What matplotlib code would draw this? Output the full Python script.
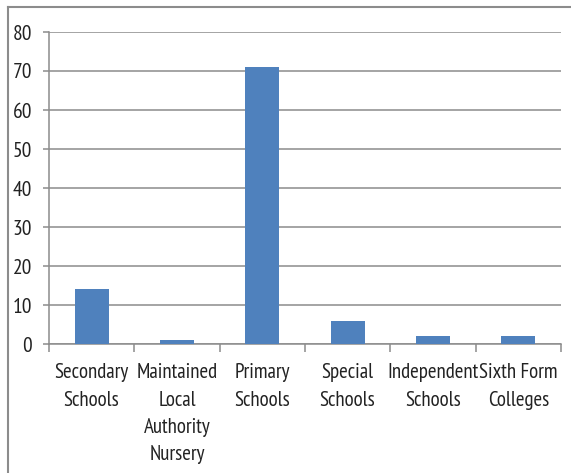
import matplotlib
matplotlib.use("Agg")
from matplotlib import pyplot as plt
from matplotlib.lines import Line2D
import numpy as np

plt.rcParams['font.family'] = ['PT Sans Narrow', 'DejaVu Sans']

categories = ["Secondary\nSchools", "Maintained\nLocal\nAuthority\nNursery",
              "Primary\nSchools", "Special\nSchools", "Independent\nSchools",
              "Sixth Form\nColleges"]
values = [14, 1, 71, 6, 2, 2]
y_ticks = [0, 10, 20, 30, 40, 50, 60, 70, 80]

W, H = 571, 473
fig = plt.figure(figsize=(W / 100, H / 100), dpi=100)
ax = fig.add_axes([49 / W, 1 - 344 / H, (561 - 49) / W, (344 - 32) / H])

x = np.arange(len(categories))
ax.bar(x, values, width=0.4, color="#4F81BD", zorder=3)

ax.set_xlim(-0.5, len(categories) - 0.5)
ax.set_ylim(0, 80)
ax.set_yticks(y_ticks)
ax.set_yticklabels([str(v) for v in y_ticks], fontsize=15.5, color="#222222")
ax.yaxis.grid(True, color="#8c8c8c", linewidth=1.1, zorder=0)

# category boundaries as tick marks, labels at centres
ax.set_xticks(np.arange(len(categories) + 1) - 0.5)
ax.set_xticklabels([])
ax.set_xticks(x, minor=True)
ax.set_xticklabels(categories, minor=True, fontsize=15, color="#222222",
                   linespacing=1.55, va="top")
ax.tick_params(axis="x", which="major", length=6, color="#8c8c8c", width=1.1)
ax.tick_params(axis="x", which="minor", length=0, pad=14)
ax.tick_params(axis="y", length=4, color="#8c8c8c", width=1.1, pad=8)

for s in ["top", "right"]:
    ax.spines[s].set_visible(False)
for s in ["left", "bottom"]:
    ax.spines[s].set_color("#8c8c8c")
    ax.spines[s].set_linewidth(1.1)

# outer chart frame (only top and left visible)
fig.add_artist(Line2D([8 / W, 1], [1 - 7 / H, 1 - 7 / H], color="#8c8c8c", linewidth=1.5))
fig.add_artist(Line2D([8 / W, 8 / W], [0, 1 - 7 / H], color="#8c8c8c", linewidth=1.5))

fig.savefig("out.png", dpi=100)
